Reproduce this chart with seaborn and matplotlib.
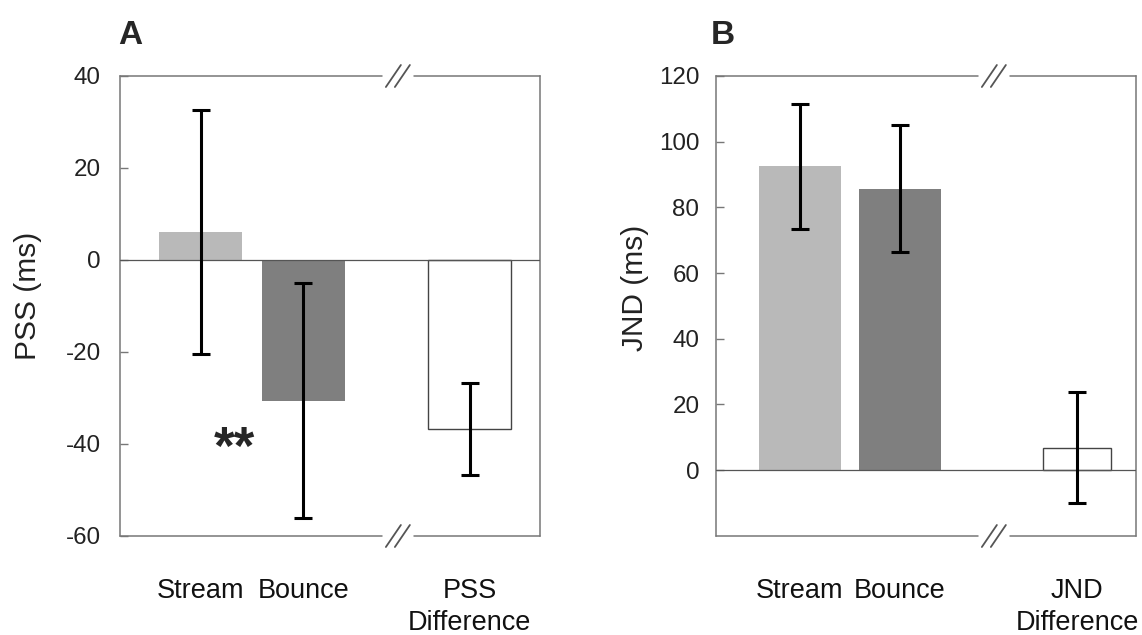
import matplotlib
matplotlib.use("Agg")
import matplotlib.pyplot as plt
import pandas as pd
import seaborn as sns

# condition names and where each bar sits on the x axis
conditions = ["Stream", "Bounce", "Difference"]
pos_a = [0.0, 1.0, 2.62]
pos_b = [0.0, 1.0, 2.77]

# panel A: point of subjective simultaneity
pss_mean = [6.0, -30.6, -36.7]
pss_err = [26.5, 25.5, 10.0]
labels_a = ["Stream", "Bounce", "PSS\nDifference"]
ticks_a = [-60, -40, -20, 0, 20, 40]

# panel B: just noticeable difference
jnd_mean = [92.5, 85.7, 6.8]
jnd_err = [19.0, 19.3, 17.0]
labels_b = ["Stream", "Bounce", "JND\nDifference"]
ticks_b = [0, 20, 40, 60, 80, 100, 120]

fills = {"Stream": "#b9b9b9", "Bounce": "#7f7f7f", "Difference": "white"}
frame_col = "#777777"

sns.set_style("white")
plt.rcParams["font.family"] = ["Liberation Sans", "DejaVu Sans"]

fig = plt.figure(figsize=(11.42, 6.35), dpi=100)
ax_a = fig.add_axes([120 / 1142, 99 / 635, 420 / 1142, 460 / 635])
ax_b = fig.add_axes([716 / 1142, 99 / 635, 420 / 1142, 460 / 635])


def panel(ax, pos, mean, err, labels, ticks, ylim, xlim, widths, brk, letter, ylabel, ylab_x, ylab_y, tpad):
    df = pd.DataFrame({"x": pos, "y": mean, "cond": conditions})
    sns.barplot(data=df, x="x", y="y", hue="cond", palette=fills, native_scale=True,
                dodge=False, errorbar=None, legend=False, linewidth=0, ax=ax, zorder=2)
    # fix widths per bar and give the difference bar its outline
    for p in ax.patches:
        cx = p.get_x() + p.get_width() / 2
        i = min(range(len(pos)), key=lambda k: abs(pos[k] - cx))
        p.set_width(widths[i])
        p.set_x(pos[i] - widths[i] / 2)
        if conditions[i] == "Difference":
            p.set_edgecolor("#444444")
            p.set_linewidth(1.0)
    ax.errorbar(pos, mean, yerr=err, fmt="none", ecolor="black", elinewidth=2.2,
                capsize=6.5, capthick=2.2, zorder=4)
    ax.axhline(0, color="#555555", lw=0.9, zorder=3)

    ax.set_xlim(*xlim)
    ax.set_ylim(*ylim)
    ax.set_yticks(ticks)
    ax.set_yticklabels([str(t) for t in ticks], fontsize=17.4, color="#222222")
    ax.set_xticks(pos)
    ax.set_xticklabels(labels, fontsize=19.5, color="#111111")
    for t in ax.get_xticklabels():
        t.set_linespacing(1.33)
    ax.tick_params(axis="x", length=0, pad=30)
    ax.tick_params(axis="y", direction="in", length=5.5, width=1, color=frame_col, pad=tpad, left=True)
    ax.set_xlabel("")
    ax.set_ylabel(ylabel, fontsize=21.5, color="#222222")
    ax.yaxis.set_label_coords(ylab_x, ylab_y)

    for s in ("top", "bottom"):
        ax.spines[s].set_visible(False)
    for s in ("left", "right"):
        ax.spines[s].set_color(frame_col)
        ax.spines[s].set_linewidth(1.1)

    # top and bottom frame with the axis-break marks
    unit = 420 / (xlim[1] - xlim[0])
    half_gap = 16 / unit
    sx, off = 7.5 / unit, 4.5 / unit
    sy = 11 / 460
    tr = ax.get_xaxis_transform()
    for y in (0, 1):
        ax.plot([xlim[0], brk - half_gap], [y, y], color=frame_col, lw=1.1, transform=tr, clip_on=False)
        ax.plot([brk + half_gap, xlim[1]], [y, y], color=frame_col, lw=1.1, transform=tr, clip_on=False)
        for d in (-off, off):
            ax.plot([brk + d - sx, brk + d + sx], [y - sy, y + sy], color="#555555", lw=1.3,
                    transform=tr, clip_on=False)

    ax.text(letter[1], 1.07, letter[0], transform=ax.transAxes, fontsize=24,
            fontweight="bold", ha="left", va="baseline")


panel(ax_a, pos_a, pss_mean, pss_err, labels_a, ticks_a, (-60, 40), (-0.786, 3.304),
      [0.805, 0.805, 0.805], 1.92, ("A", -0.005), "PSS (ms)", -0.186, 0.522, 14)
panel(ax_b, pos_b, jnd_mean, jnd_err, labels_b, ticks_b, (-20.1, 120), (-0.836, 3.36),
      [0.822, 0.822, 0.676], 1.94, ("B", -0.012), "JND (ms)", -0.16, 0.54, 12)

ax_a.text(0.33, -41.3, "**", fontsize=38, fontweight="bold", ha="center", va="center", zorder=5)

fig.savefig("out.png", dpi=100)
